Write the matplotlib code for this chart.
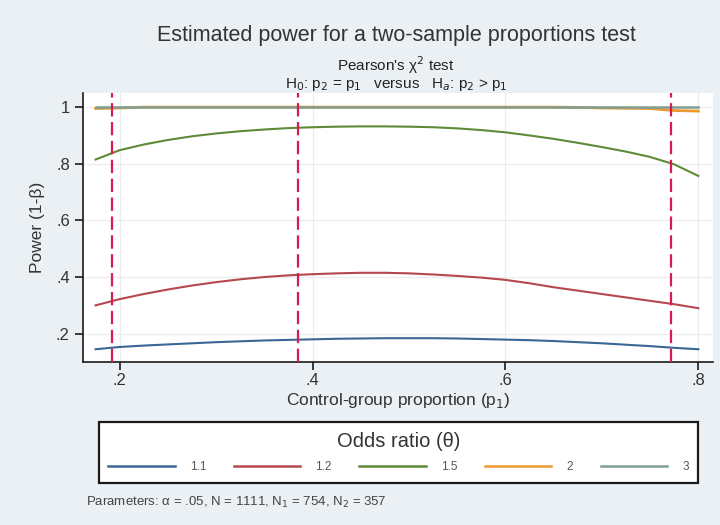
import numpy as np
import matplotlib.pyplot as plt
from matplotlib.lines import Line2D

plt.rcParams['font.family'] = ['Liberation Sans', 'DejaVu Sans']

# control-group proportion p1
p1 = [0.175, 0.2, 0.225, 0.25, 0.275, 0.3, 0.325, 0.35, 0.375, 0.4,
      0.425, 0.45, 0.475, 0.5, 0.525, 0.55, 0.575, 0.6, 0.625, 0.65,
      0.675, 0.7, 0.725, 0.75, 0.775, 0.8]

# estimated power, one list per odds ratio
pow_11 = [0.145, 0.153, 0.158, 0.162, 0.166, 0.170, 0.173, 0.176, 0.178, 0.180,
          0.182, 0.183, 0.184, 0.184, 0.184, 0.183, 0.181, 0.179, 0.177, 0.174,
          0.170, 0.166, 0.161, 0.156, 0.150, 0.145]
pow_12 = [0.300, 0.322, 0.340, 0.356, 0.370, 0.382, 0.392, 0.400, 0.406, 0.410,
          0.413, 0.415, 0.415, 0.413, 0.409, 0.404, 0.398, 0.390, 0.378, 0.364,
          0.352, 0.340, 0.328, 0.316, 0.304, 0.290]
pow_15 = [0.815, 0.848, 0.868, 0.884, 0.897, 0.907, 0.915, 0.921, 0.926, 0.929,
          0.931, 0.932, 0.932, 0.931, 0.929, 0.925, 0.919, 0.911, 0.900, 0.888,
          0.874, 0.859, 0.843, 0.824, 0.798, 0.757]
pow_2 = [0.995, 0.997, 1.0, 1.0, 1.0, 1.0, 1.0, 1.0, 1.0, 1.0,
         1.0, 1.0, 1.0, 1.0, 1.0, 1.0, 1.0, 1.0, 1.0, 1.0,
         0.999, 0.997, 0.996, 0.995, 0.988, 0.986]
pow_3 = [1.0] * 26

odds_labels = ['1.1', '1.2', '1.5', '2', '3']
series = [pow_11, pow_12, pow_15, pow_2, pow_3]
colors = ['#3a6796', '#b5474f', '#5f8a38', '#eb9a2e', '#7f9e94']
widths = [1.5, 1.5, 1.5, 2.0, 1.8]

# reference lines
vlines = [0.192, 0.385, 0.772]

bg = '#eaf0f3'
fig = plt.figure(figsize=(7.2, 5.25), dpi=100, facecolor=bg)
ax = fig.add_axes([0.1153, 0.3105, 0.8747, 0.5124])
ax.set_facecolor('white')

for xv in vlines:
    ax.axvline(xv, color='#d81b50', lw=1.6, ls=(0, (6, 2.5)), zorder=4)

for y, c, w in zip(series, colors, widths):
    ax.plot(p1, y, color=c, lw=w, zorder=3)

ax.set_xlim(0.162, 0.815)
ax.set_ylim(0.1, 1.05)
ax.set_xticks([0.2, 0.4, 0.6, 0.8])
ax.set_xticklabels(['.2', '.4', '.6', '.8'])
ax.set_yticks([0.2, 0.4, 0.6, 0.8, 1.0])
ax.set_yticklabels(['.2', '.4', '.6', '.8', '1'])
ax.grid(True, color='#ececec', lw=0.9, zorder=0)
ax.set_axisbelow(True)
for s in ['top', 'right']:
    ax.spines[s].set_visible(False)
for s in ['left', 'bottom']:
    ax.spines[s].set_color('#1a1a1a')
    ax.spines[s].set_linewidth(1.2)
ax.tick_params(direction='out', length=6, width=1.2, colors='#1a1a1a',
               labelsize=12, labelcolor='#333333')
ax.tick_params(axis='x', pad=2)

ax.set_xlabel('Control-group proportion (p$_1$)', fontsize=12.5, color='#333333', labelpad=2)
ax.set_ylabel('Power (1-β)', fontsize=12.5, color='#333333', labelpad=8)

fig.text(0.55, 0.922, 'Estimated power for a two-sample proportions test',
         ha='center', fontsize=15.5, color='#333333')
fig.text(0.55, 0.864, "Pearson's χ$^2$ test", ha='center', fontsize=11, color='#222222')
fig.text(0.55, 0.832, 'H$_0$: p$_2$ = p$_1$   versus   H$_a$: p$_2$ > p$_1$',
         ha='center', fontsize=11, color='#222222')

handles = [Line2D([], [], color=c, lw=1.8) for c in colors]
leg = fig.legend(handles, odds_labels, title='Odds ratio (θ)', ncol=5,
                 loc='center', mode='expand', borderaxespad=0,
                 bbox_to_anchor=(99 / 720, 1 - 483 / 525, 599 / 720, 61 / 525),
                 fontsize=8.5, title_fontsize=14.5, handlelength=5.6,
                 handletextpad=1.3, frameon=True,
                 fancybox=False, edgecolor='#1a1a1a', facecolor='white',
                 borderpad=0.8, labelspacing=0.9, labelcolor='#555555',
                 framealpha=1)
leg.get_frame().set_linewidth(1.6)
leg.get_title().set_color('#333333')

fig.text(0.120, 0.037, 'Parameters: α = .05, N = 1111, N$_1$ = 754, N$_2$ = 357',
         fontsize=9.5, color='#444444')

fig.savefig('out.png', dpi=100, facecolor=bg)
